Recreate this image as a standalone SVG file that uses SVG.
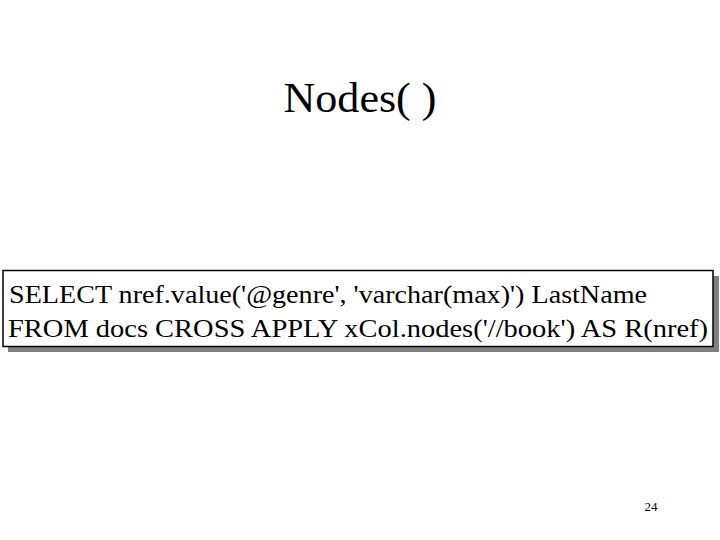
<svg xmlns="http://www.w3.org/2000/svg" width="720" height="540" viewBox="0 0 720 540">
<style>
text{font-family:"Liberation Serif","Times New Roman",serif;fill:#000}
.code{font-size:26px}
</style>
<rect width="720" height="540" fill="#fff"/>
<g id="title"><text x="360" y="112" font-size="42" text-anchor="middle" textLength="153" lengthAdjust="spacingAndGlyphs">Nodes( )</text></g>
<g id="query">
<rect x="8" y="276" width="711" height="76" fill="#808080"/>
<rect x="3" y="270.5" width="710" height="76" fill="#fff" stroke="#000" stroke-width="1.5"/>
<text class="code" x="9" y="303" textLength="638" lengthAdjust="spacingAndGlyphs">SELECT nref.value('@genre', 'varchar(max)') LastName</text>
<text class="code" x="8" y="337" textLength="700" lengthAdjust="spacingAndGlyphs">FROM docs CROSS APPLY xCol.nodes('//book') AS R(nref)</text>
</g>
<g id="page"><text x="651" y="511" font-size="13" text-anchor="middle">24</text></g>
</svg>
